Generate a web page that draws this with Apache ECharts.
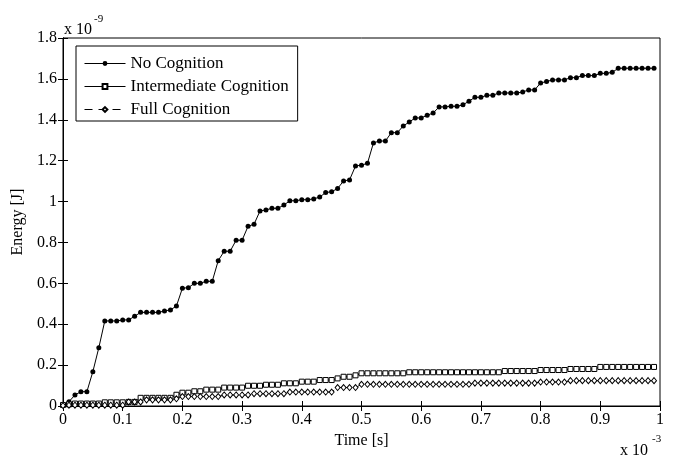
<!DOCTYPE html>
<html>
<head>
<meta charset="utf-8">
<script src="https://cdn.jsdelivr.net/npm/echarts@6/dist/echarts.min.js"></script>
<style>html,body{margin:0;padding:0;background:#fff}#c{width:680px;height:458px}</style>
</head>
<body>
<div id="c"></div>
<script>
// Time samples (x 10^-3 s)
var times = [0,0.01,0.02,0.03,0.04,0.05,0.06,0.07,0.08,0.09,
0.10,0.11,0.12,0.13,0.14,0.15,0.16,0.17,0.18,0.19,
0.20,0.21,0.22,0.23,0.24,0.25,0.26,0.27,0.28,0.29,
0.30,0.31,0.32,0.33,0.34,0.35,0.36,0.37,0.38,0.39,
0.40,0.41,0.42,0.43,0.44,0.45,0.46,0.47,0.48,0.49,
0.50,0.51,0.52,0.53,0.54,0.55,0.56,0.57,0.58,0.59,
0.60,0.61,0.62,0.63,0.64,0.65,0.66,0.67,0.68,0.69,
0.70,0.71,0.72,0.73,0.74,0.75,0.76,0.77,0.78,0.79,
0.80,0.81,0.82,0.83,0.84,0.85,0.86,0.87,0.88,0.89,
0.90,0.91,0.92,0.93,0.94,0.95,0.96,0.97,0.98,0.99];

// Energy (x 10^-9 J)
var noCognition = [0.005,0.021,0.054,0.070,0.070,0.168,0.285,0.416,0.416,0.416,
0.421,0.421,0.439,0.458,0.458,0.458,0.458,0.465,0.470,0.489,
0.576,0.579,0.600,0.600,0.610,0.610,0.711,0.757,0.757,0.811,
0.811,0.879,0.889,0.954,0.959,0.967,0.967,0.983,1.004,1.004,
1.009,1.009,1.013,1.022,1.044,1.048,1.064,1.101,1.106,1.174,
1.178,1.187,1.287,1.296,1.296,1.337,1.337,1.370,1.389,1.409,
1.409,1.422,1.433,1.463,1.463,1.466,1.466,1.473,1.491,1.510,
1.510,1.520,1.520,1.531,1.531,1.531,1.531,1.536,1.546,1.546,
1.580,1.587,1.595,1.595,1.595,1.606,1.606,1.616,1.616,1.616,
1.627,1.627,1.632,1.652,1.652,1.652,1.652,1.652,1.652,1.652];

var intermediateCognition = [0.005,0.008,0.012,0.012,0.012,0.012,0.012,0.018,0.018,0.018,
0.018,0.020,0.020,0.040,0.040,0.040,0.040,0.040,0.040,0.055,
0.065,0.065,0.072,0.072,0.080,0.080,0.080,0.090,0.090,0.090,
0.090,0.099,0.099,0.099,0.104,0.104,0.104,0.111,0.111,0.111,
0.119,0.119,0.119,0.127,0.127,0.127,0.135,0.143,0.143,0.150,
0.160,0.160,0.160,0.160,0.160,0.160,0.160,0.160,0.165,0.165,
0.165,0.165,0.165,0.165,0.165,0.165,0.165,0.165,0.165,0.165,
0.165,0.165,0.165,0.165,0.171,0.171,0.171,0.171,0.171,0.171,
0.176,0.176,0.176,0.176,0.176,0.181,0.181,0.181,0.181,0.181,
0.191,0.191,0.191,0.191,0.191,0.191,0.191,0.191,0.191,0.191];

var fullCognition = [0.002,0.004,0.004,0.004,0.004,0.004,0.004,0.004,0.004,0.004,
0.004,0.020,0.020,0.020,0.030,0.030,0.030,0.030,0.030,0.035,
0.046,0.046,0.046,0.046,0.046,0.046,0.046,0.054,0.054,0.054,
0.054,0.054,0.060,0.060,0.060,0.060,0.060,0.060,0.068,0.068,
0.068,0.068,0.068,0.068,0.068,0.068,0.090,0.090,0.090,0.090,
0.106,0.106,0.106,0.106,0.106,0.106,0.106,0.106,0.106,0.106,
0.106,0.106,0.106,0.106,0.106,0.106,0.106,0.106,0.106,0.112,
0.112,0.112,0.112,0.112,0.112,0.112,0.112,0.112,0.112,0.112,
0.117,0.117,0.117,0.117,0.117,0.124,0.124,0.124,0.124,0.124,
0.124,0.124,0.124,0.124,0.124,0.124,0.124,0.124,0.124,0.124];

var seriesNames = ['No Cognition', 'Intermediate Cognition', 'Full Cognition'];

function pairs(ys) { return times.map(function (t, i) { return [t, ys[i]]; }); }

var FONT = 'Liberation Serif';
var chart = echarts.init(document.getElementById('c'), null, {renderer: 'canvas'});
var tickFmt = function (v) { return String(+v.toFixed(1)); };

var axisCommon = {
  axisLine: {show: true, lineStyle: {color: '#000', width: 1}},
  axisTick: {show: true, inside: true, length: 5, lineStyle: {color: '#000'}},
  splitLine: {show: false}
};

chart.setOption({
  animation: false,
  backgroundColor: '#fff',
  grid: {left: 63, right: 20, top: 38, bottom: 52, show: true, borderColor: '#000', borderWidth: 1, backgroundColor: 'transparent'},
  legend: {
    orient: 'vertical', left: 76, top: 46,
    itemWidth: 41, itemHeight: 6, itemGap: 6,
    padding: [9, 9, 3, 8],
    borderColor: '#000', borderWidth: 1, backgroundColor: '#fff',
    lineStyle: {width: 1},
    textStyle: {fontFamily: FONT, fontSize: 17, color: '#000'},
    data: seriesNames
  },
  xAxis: [
    Object.assign({type: 'value', min: 0, max: 1, interval: 0.1, position: 'bottom',
      name: 'Time [s]', nameLocation: 'middle', nameGap: 27,
      nameTextStyle: {fontFamily: FONT, fontSize: 16, color: '#000'},
      axisLabel: {fontFamily: FONT, fontSize: 16, color: '#000', margin: 6, formatter: tickFmt}}, axisCommon),
    Object.assign({type: 'value', min: 0, max: 1, interval: 0.1, position: 'top',
      axisLabel: {show: false}}, axisCommon)
  ],
  yAxis: [
    Object.assign({type: 'value', min: 0, max: 1.8, interval: 0.2, position: 'left',
      name: 'Energy [J]', nameLocation: 'middle', nameGap: 31,
      nameTextStyle: {fontFamily: FONT, fontSize: 16, color: '#000'},
      axisLabel: {fontFamily: FONT, fontSize: 16, color: '#000', margin: 6, formatter: tickFmt}}, axisCommon),
    Object.assign({type: 'value', min: 0, max: 1.8, interval: 0.2, position: 'right',
      axisLabel: {show: false}}, axisCommon)
  ],
  series: [
    {name: seriesNames[0], type: 'line', data: pairs(noCognition),
      symbol: 'circle', symbolSize: 5, showAllSymbol: true,
      lineStyle: {color: '#000', width: 1},
      itemStyle: {color: '#000', borderColor: '#000', borderWidth: 0}},
    {name: seriesNames[1], type: 'line', data: pairs(intermediateCognition),
      symbol: 'rect', symbolSize: 5, showAllSymbol: true,
      lineStyle: {color: '#000', width: 1},
      itemStyle: {color: '#fff', borderColor: '#000', borderWidth: 1}},
    {name: seriesNames[2], type: 'line', data: pairs(fullCognition),
      symbol: 'diamond', symbolSize: [5, 6], showAllSymbol: true,
      lineStyle: {color: '#000', width: 1, type: [8, 6]},
      itemStyle: {color: '#fff', borderColor: '#000', borderWidth: 1}}
  ],
  graphic: [
    {type: 'text', left: 64, top: 22, style: {text: 'x 10', font: '16px "Liberation Serif"', fill: '#000'}},
    {type: 'text', left: 94, top: 14, style: {text: '-9', font: '11px "Liberation Serif"', fill: '#000'}},
    {type: 'text', left: 620, top: 443, style: {text: 'x 10', font: '16px "Liberation Serif"', fill: '#000'}},
    {type: 'text', left: 652, top: 434, style: {text: '-3', font: '11px "Liberation Serif"', fill: '#000'}}
  ]
});
</script>
</body>
</html>
